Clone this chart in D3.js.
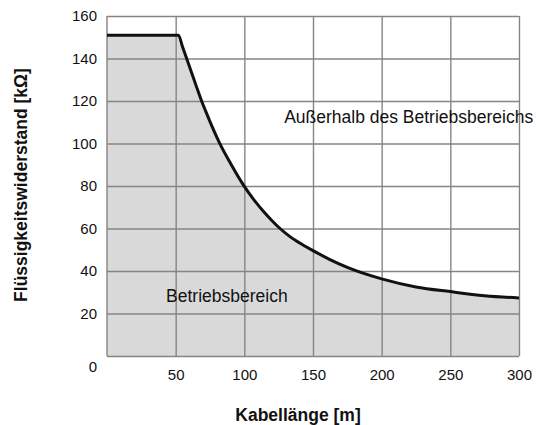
<!DOCTYPE html>
<html>
<head>
<meta charset="utf-8">
<script src="https://cdn.jsdelivr.net/npm/d3@7"></script>
<style>
  body { margin: 0; background: #fff; }
  svg text { font-family: "Liberation Sans", Arial, sans-serif; fill: #111; }
</style>
</head>
<body>
<div id="chart"></div>
<script>
// cable length [m] vs. fluid resistance [kOhm]
var lengths = [0, 52, 55, 58, 62, 65, 68.6, 72, 76, 82, 90, 99.5, 107, 114, 120, 126, 133, 140, 150, 162, 175, 200, 225, 250, 275, 300];
var resist  = [151, 151, 145.5, 140, 132.6, 127, 120.5, 115, 108.8, 100.2, 90.6, 80.3, 73.5, 68, 63.8, 60, 56.3, 53.3, 49.6, 45.5, 41.7, 36.3, 32.5, 30.3, 28.4, 27.3];
var xTicks = [50, 100, 150, 200, 250, 300];
var yTicks = [0, 20, 40, 60, 80, 100, 120, 140, 160];
var xTitle = "Kabellänge [m]";
var yTitle = "Flüssigkeitswiderstand [kΩ]";
var labelIn = "Betriebsbereich";
var labelOut = "Außerhalb des Betriebsbereichs";

var width = 536, height = 425;
var plotL = 107, plotR = 519, plotT = 16, plotB = 356;

var svg = d3.select("#chart").append("svg").attr("width", width).attr("height", height);

var x = d3.scaleLinear().domain([0, 300]).range([plotL, plotR]);
var y = d3.scaleLinear().domain([0, 160]).range([plotB, plotT]);

var data = lengths.map(function(d, i) { return {len: d, r: resist[i]}; });

// shaded operating area
var area = d3.area()
  .curve(d3.curveMonotoneX)
  .x(function(d) { return x(d.len); })
  .y0(y(0))
  .y1(function(d) { return y(d.r); });

svg.append("path")
  .datum(data)
  .attr("d", area)
  .attr("fill", "#d9d9d9");

// grid + tick labels
var gx = svg.append("g")
  .attr("transform", "translate(0," + plotB + ")")
  .call(d3.axisBottom(x).tickValues(xTicks).tickSize(-(plotB - plotT)).tickPadding(13));
var gy = svg.append("g")
  .attr("transform", "translate(" + plotL + ",0)")
  .call(d3.axisLeft(y).tickValues(yTicks).tickSize(-(plotR - plotL)).tickPadding(10));

[gx, gy].forEach(function(g) {
  g.select(".domain").remove();
  g.selectAll(".tick line").attr("stroke", "#858585").attr("stroke-width", 1.4);
  g.selectAll(".tick text").style("font-size", "15px").attr("fill", "#111");
});
// the "0" sits a bit lower than its line in the original
gy.selectAll(".tick text").filter(function(d) { return d === 0; }).attr("dy", "1.05em");

// left border
svg.append("line")
  .attr("x1", x(0)).attr("x2", x(0))
  .attr("y1", y(0)).attr("y2", y(160))
  .attr("stroke", "#858585").attr("stroke-width", 1.4);

// limit curve
var line = d3.line()
  .curve(d3.curveMonotoneX)
  .x(function(d) { return x(d.len); })
  .y(function(d) { return y(d.r); });

svg.append("path")
  .datum(data)
  .attr("d", line)
  .attr("fill", "none")
  .attr("stroke", "#111")
  .attr("stroke-width", 3)
  .attr("stroke-linejoin", "round");

// region labels
svg.append("text")
  .attr("x", x(43)).attr("y", y(25.5))
  .style("font-size", "17.5px")
  .text(labelIn);
svg.append("text")
  .attr("x", x(129)).attr("y", y(109.5))
  .style("font-size", "17.5px")
  .text(labelOut);

// axis titles
svg.append("text")
  .attr("x", 298).attr("y", 421)
  .attr("text-anchor", "middle")
  .style("font-size", "17.5px").style("font-weight", "bold")
  .text(xTitle);
svg.append("text")
  .attr("transform", "translate(27,185) rotate(-90)")
  .attr("text-anchor", "middle")
  .style("font-size", "17.5px").style("font-weight", "bold")
  .text(yTitle);
</script>
</body>
</html>
